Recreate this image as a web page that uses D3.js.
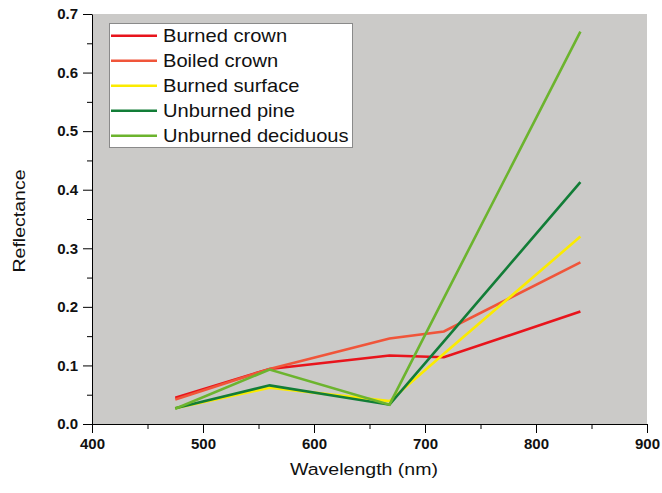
<!DOCTYPE html>
<html>
<head>
<meta charset="utf-8">
<script src="https://cdn.jsdelivr.net/npm/d3@7"></script>
<style>
  html, body { margin: 0; padding: 0; background: #ffffff; }
  svg { display: block; font-family: "Liberation Sans", Arial, sans-serif; }
</style>
</head>
<body>
<svg id="chart" width="662" height="493"></svg>
<script>
// Band centre wavelengths (nm)
const wavelengths = [475, 560, 668, 717, 840];

// Reflectance per surface class at each band
const burnedCrown       = [0.045, 0.094, 0.117, 0.114, 0.192];
const boiledCrown       = [0.042, 0.094, 0.146, 0.158, 0.276];
const burnedSurface     = [0.027, 0.062, 0.039, 0.120, 0.320];
const unburnedPine      = [0.027, 0.066, 0.033, 0.141, 0.413];
const unburnedDeciduous = [0.026, 0.093, 0.033, 0.215, 0.670];

const seriesNames  = ["Burned crown", "Boiled crown", "Burned surface", "Unburned pine", "Unburned deciduous"];
const seriesValues = [burnedCrown, boiledCrown, burnedSurface, unburnedPine, unburnedDeciduous];
const seriesColors = ["#e8141c", "#f0553a", "#fbeb00", "#127d37", "#6cb42e"];

const xTicks = [400, 500, 600, 700, 800, 900];
const yTicks = [0.0, 0.1, 0.2, 0.3, 0.4, 0.5, 0.6, 0.7];

const svg = d3.select("#chart");
const plot = { left: 92, right: 647, top: 14, bottom: 424 };

const x = d3.scaleLinear().domain([400, 900]).range([plot.left, plot.right]);
const y = d3.scaleLinear().domain([0, 0.7]).range([plot.bottom, plot.top]);

// plot background
svg.append("rect")
  .attr("x", plot.left).attr("y", plot.top)
  .attr("width", plot.right - plot.left).attr("height", plot.bottom - plot.top)
  .attr("fill", "#cbcac8");

// series lines
const line = d3.line()
  .x((d, i) => x(wavelengths[i]))
  .y(d => y(d));

svg.append("g").selectAll("path")
  .data(seriesValues)
  .join("path")
  .attr("d", d => line(d))
  .attr("fill", "none")
  .attr("stroke", (d, i) => seriesColors[i])
  .attr("stroke-width", 2.6)
  .attr("stroke-linejoin", "miter");

// minor ticks
const xMinor = d3.range(450, 900, 100);
const yMinor = d3.range(0.05, 0.7, 0.1);

svg.append("g")
  .attr("transform", `translate(0,${plot.bottom})`)
  .call(d3.axisBottom(x).tickValues(xMinor).tickSize(5).tickFormat(""))
  .call(g => g.select(".domain").remove());

svg.append("g")
  .attr("transform", `translate(${plot.left},0)`)
  .call(d3.axisLeft(y).tickValues(yMinor).tickSize(5).tickFormat(""))
  .call(g => g.select(".domain").remove());

// major axes
const xAxis = svg.append("g")
  .attr("transform", `translate(0,${plot.bottom})`)
  .call(d3.axisBottom(x).tickValues(xTicks).tickSize(9).tickSizeOuter(0).tickPadding(5).tickFormat(d3.format("d")));

const yAxis = svg.append("g")
  .attr("transform", `translate(${plot.left},0)`)
  .call(d3.axisLeft(y).tickValues(yTicks).tickSize(9).tickSizeOuter(0).tickPadding(5).tickFormat(d3.format(".1f")));

[xAxis, yAxis].forEach(g => {
  g.selectAll("path, line").attr("stroke", "#000").attr("stroke-width", 1);
  g.selectAll("text")
    .attr("fill", "#111")
    .style("font-family", "'Liberation Sans', Arial, sans-serif")
    .style("font-size", "15px")
    .style("font-weight", "bold");
});
svg.selectAll("g line").attr("stroke", "#000");

// axis titles
svg.append("text")
  .attr("transform", `translate(364,475) scale(1.15,1)`)
  .attr("text-anchor", "middle")
  .attr("fill", "#111")
  .style("font-size", "17px")
  .text("Wavelength (nm)");

svg.append("text")
  .attr("transform", `translate(25,${(plot.top + plot.bottom) / 2 + 2}) rotate(-90) scale(1.15,1)`)
  .attr("text-anchor", "middle")
  .attr("fill", "#111")
  .style("font-size", "17px")
  .text("Reflectance");

// legend
const legend = svg.append("g");
legend.append("rect")
  .attr("x", 109.5).attr("y", 23.5)
  .attr("width", 243).attr("height", 124)
  .attr("fill", "#ffffff")
  .attr("stroke", "#8a8a8a")
  .attr("stroke-width", 1);

const rows = legend.selectAll("g.row")
  .data(seriesNames)
  .join("g")
  .attr("class", "row")
  .attr("transform", (d, i) => `translate(0,${35.7 + i * 25})`);

rows.append("line")
  .attr("x1", 111).attr("x2", 157)
  .attr("y1", 0).attr("y2", 0)
  .attr("stroke", (d, i) => seriesColors[i])
  .attr("stroke-width", 2.6);

rows.append("text")
  .attr("transform", "translate(163,6) scale(1.15,1)")
  .attr("fill", "#111")
  .style("font-size", "17.5px")
  .text(d => d);
</script>
</body>
</html>
